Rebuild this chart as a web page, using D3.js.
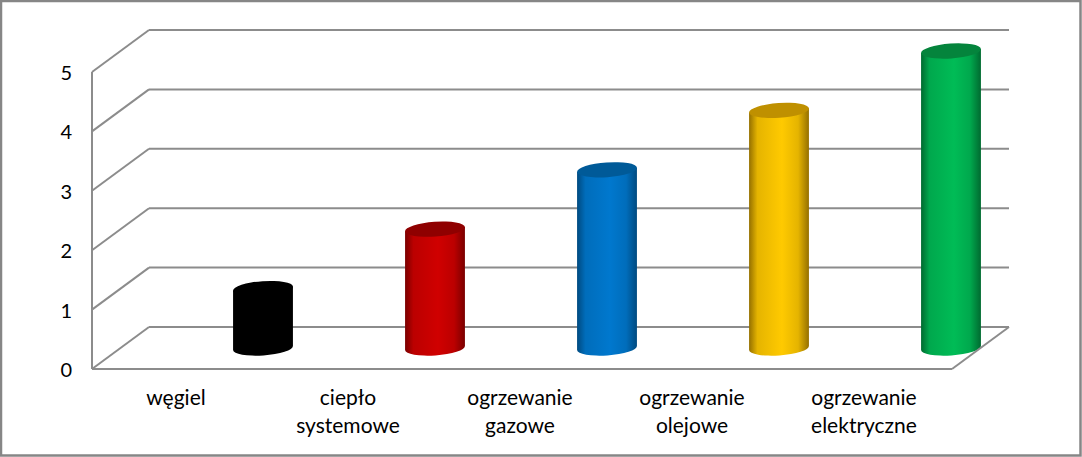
<!DOCTYPE html>
<html><head><meta charset="utf-8">
<script src="https://cdnjs.cloudflare.com/ajax/libs/d3/7.8.5/d3.min.js"></script>
<style>html,body{margin:0;padding:0;background:#fff}svg{display:block}text{font-family:Lato,"Open Sans",sans-serif;fill:#000}</style>
</head><body><svg id="c" width="1082" height="457"></svg>
<script>
const categories=["węgiel","ciepło systemowe","ogrzewanie gazowe","ogrzewanie olejowe","ogrzewanie elektryczne"];
const labelLines=[["węgiel"],["ciepło","systemowe"],["ogrzewanie","gazowe"],["ogrzewanie","olejowe"],["ogrzewanie","elektryczne"]];
const values=[1,2,3,4,5];
const yTicks=[0,1,2,3,4,5];
const bodyColors=["#000000","#D00000","#0078CE","#FFCA00","#00BC56"];
const edgeColors=["#000000","#7a0000","#004a80","#957000","#006a30"];
const topColors=["#000000","#8f0000","#005a98","#bf9000","#04843c"];

const W=1082,H=457,grid="#8c8c8c";
const depthX=57,depthY=42,rx=30,ry=7.4,tilt=-4;
const svg=d3.select("#c");
const x=d3.scaleBand().domain(categories).range([92,952]);
const y=d3.scaleLinear().domain([0,5]).range([369,72]);
const barC=d=>x(d)+x.bandwidth()/2+85;
const barY=v=>y(v)-21;

svg.append("rect").attr("x",1).attr("y",1).attr("width",W-2.5).attr("height",H-2.5).attr("fill","#fff").attr("stroke","#868686").attr("stroke-width",2.5);

const defs=svg.append("defs");
categories.forEach((c,i)=>{
  const g=defs.append("linearGradient").attr("id","g"+i).attr("x1",0).attr("x2",1).attr("y1",0).attr("y2",0);
  [[0,edgeColors[i]],[.14,d3.interpolateRgb(edgeColors[i],bodyColors[i])(.75)],[.55,bodyColors[i]],[.82,d3.interpolateRgb(edgeColors[i],bodyColors[i])(.75)],[1,edgeColors[i]]]
   .forEach(([o,col])=>g.append("stop").attr("offset",o).attr("stop-color",col));
});

const line=(x1,y1,x2,y2)=>svg.append("line").attr("x1",x1).attr("y1",y1).attr("x2",x2).attr("y2",y2).attr("stroke",grid).attr("stroke-width",2);
yTicks.forEach(t=>{
  line(x.range()[0],y(t),x.range()[0]+depthX,y(t)-depthY);
  line(x.range()[0]+depthX,y(t)-depthY,x.range()[1]+depthX,y(t)-depthY);
});
line(x.range()[0],y(5),x.range()[0],y(0));
line(x.range()[0],y(0),x.range()[1],y(0));

const dy=rx*Math.sin(tilt*Math.PI/180), dx=rx*Math.cos(tilt*Math.PI/180);
categories.forEach((c,i)=>{
  const cx=barC(c),t=barY(values[i]),b=barY(0);
  svg.append("path").attr("fill",`url(#g${i})`)
    .attr("d",`M${cx-dx},${t-dy}L${cx+dx},${t+dy}L${cx+dx},${b+dy}A${rx},${ry} ${tilt} 0 1 ${cx-dx},${b-dy}Z`);
  svg.append("ellipse").attr("cx",cx).attr("cy",t).attr("rx",rx).attr("ry",ry)
    .attr("transform",`rotate(${tilt} ${cx} ${t})`).attr("fill",topColors[i]);
});
line(x.range()[1],y(0),x.range()[1]+depthX,y(0)-depthY);

yTicks.forEach(t=>svg.append("text").attr("x",72).attr("y",y(t)+8).attr("text-anchor","end").attr("font-size",20).text(t));
categories.forEach((c,i)=>{
  labelLines[i].forEach((s,j)=>svg.append("text").attr("x",x(c)+x.bandwidth()/2-2).attr("y",405+j*28).attr("text-anchor","middle").attr("font-size",21).text(s));
});
</script></body></html>
